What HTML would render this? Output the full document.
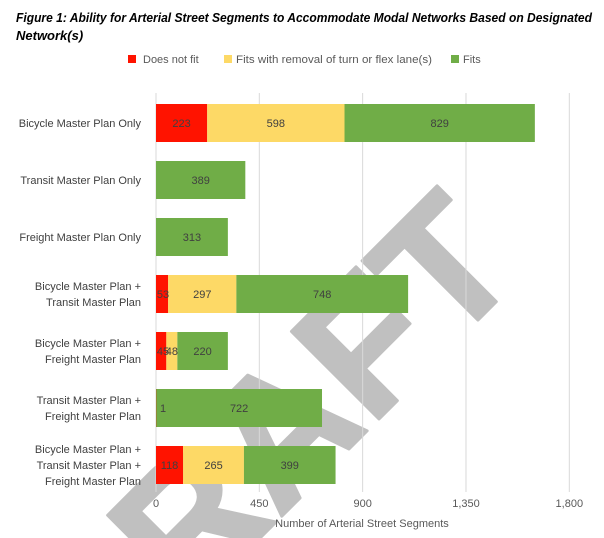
<!DOCTYPE html>
<html><head><meta charset="utf-8"><style>
html,body{margin:0;background:#fff;width:604px;height:538px;overflow:hidden}
svg{display:block;font-family:"Liberation Sans",sans-serif;overflow:hidden}
</style></head><body>
<svg width="604" height="538" viewBox="0 0 604 538">
<defs><clipPath id="frame"><rect x="0" y="0" width="604" height="538"/></clipPath></defs>
<g clip-path="url(#frame)">
<text transform="translate(526,272) rotate(-45)" text-anchor="end" font-size="180" font-weight="bold" fill="#c0c0c0" stroke="#c0c0c0" stroke-width="3" stroke-linejoin="round">DRAFT</text>
</g>
<text font-weight="bold" font-style="italic" font-size="13" fill="#000">
<tspan x="16" y="22" textLength="576" lengthAdjust="spacingAndGlyphs">Figure 1: Ability for Arterial Street Segments to Accommodate Modal Networks Based on Designated</tspan>
<tspan x="16" y="40">Network(s)</tspan></text>
<g font-size="11" fill="#595959">
<rect x="128" y="55" width="8" height="8" fill="#ff1300"/>
<text x="143" y="63">Does not fit</text>
<rect x="224" y="55" width="8" height="8" fill="#fdd966"/>
<text x="236" y="63" textLength="196" lengthAdjust="spacingAndGlyphs">Fits with removal of turn or flex lane(s)</text>
<rect x="451" y="55" width="8" height="8" fill="#70ad47"/>
<text x="463" y="63">Fits</text>
</g>
<g id="grid"></g><g id="bars"></g><g id="labels"></g>
<text x="362" y="527" text-anchor="middle" font-size="11" fill="#595959">Number of Arterial Street Segments</text>
</svg>
<script>
const categories=[["Bicycle Master Plan Only"],["Transit Master Plan Only"],["Freight Master Plan Only"],["Bicycle Master Plan +","Transit Master Plan"],["Bicycle Master Plan +","Freight Master Plan"],["Transit Master Plan +","Freight Master Plan"],["Bicycle Master Plan +","Transit Master Plan +","Freight Master Plan"]];
const doesNotFit=[223,0,0,53,45,1,118];
const fitsWithRemoval=[598,0,0,297,48,0,265];
const fits=[829,389,313,748,220,722,399];
const ticks=[0,450,900,1350,1800];
const tickLabels=["0","450","900","1,350","1,800"];
const NS="http://www.w3.org/2000/svg";
const X0=156,X1=569.3,XMAX=1800,TOP=93,BOT=492,STEP=57,FIRST=123,BH=38;
const xs=v=>X0+v/XMAX*(X1-X0);
const yc=i=>FIRST+i*STEP;
function mk(t,a,p){const e=document.createElementNS(NS,t);for(const k in a)e.setAttribute(k,a[k]);p.appendChild(e);return e;}
const grid=document.getElementById('grid'),bars=document.getElementById('bars'),labels=document.getElementById('labels');
ticks.forEach((t,i)=>{
 const l=mk('line',{x1:xs(t),x2:xs(t),y1:TOP,y2:BOT,stroke:'#d9d9d9','stroke-width':1},grid);
 
 
 const tx=mk('text',{x:xs(t),y:507,'text-anchor':'middle','font-size':11,fill:'#595959'},labels);
 tx.textContent=tickLabels[i];
 
 
});
const series=[[doesNotFit,'#ff1300','does-not-fit'],[fitsWithRemoval,'#fdd966','fits-with-removal'],[fits,'#70ad47','fits']];
categories.forEach((c,i)=>{
 const y=yc(i);
 const n=c.length;
 c.forEach((line,j)=>{
  const t=mk('text',{x:141,y:y+4+(j-(n-1)/2)*16,'text-anchor':'end','font-size':11,fill:'#404040'},labels);
  t.textContent=line;
  
  
 });
 let acc=0;
 series.forEach(([arr,col,nm])=>{
  const v=arr[i];
  if(v<=0)return;
  const xa=xs(acc),xb=xs(acc+v);
  const r=mk('rect',{x:xa,y:y-BH/2,width:Math.max(xb-xa,0.5),height:BH,fill:col},bars);
  
  
  const t=mk('text',{x:Math.max((xa+xb)/2,X0+7),y:y+4,'text-anchor':'middle','font-size':11,fill:'#404040'},labels);
  t.textContent=v;
  
  
  acc+=v;
 });
});
</script>
</body></html>
